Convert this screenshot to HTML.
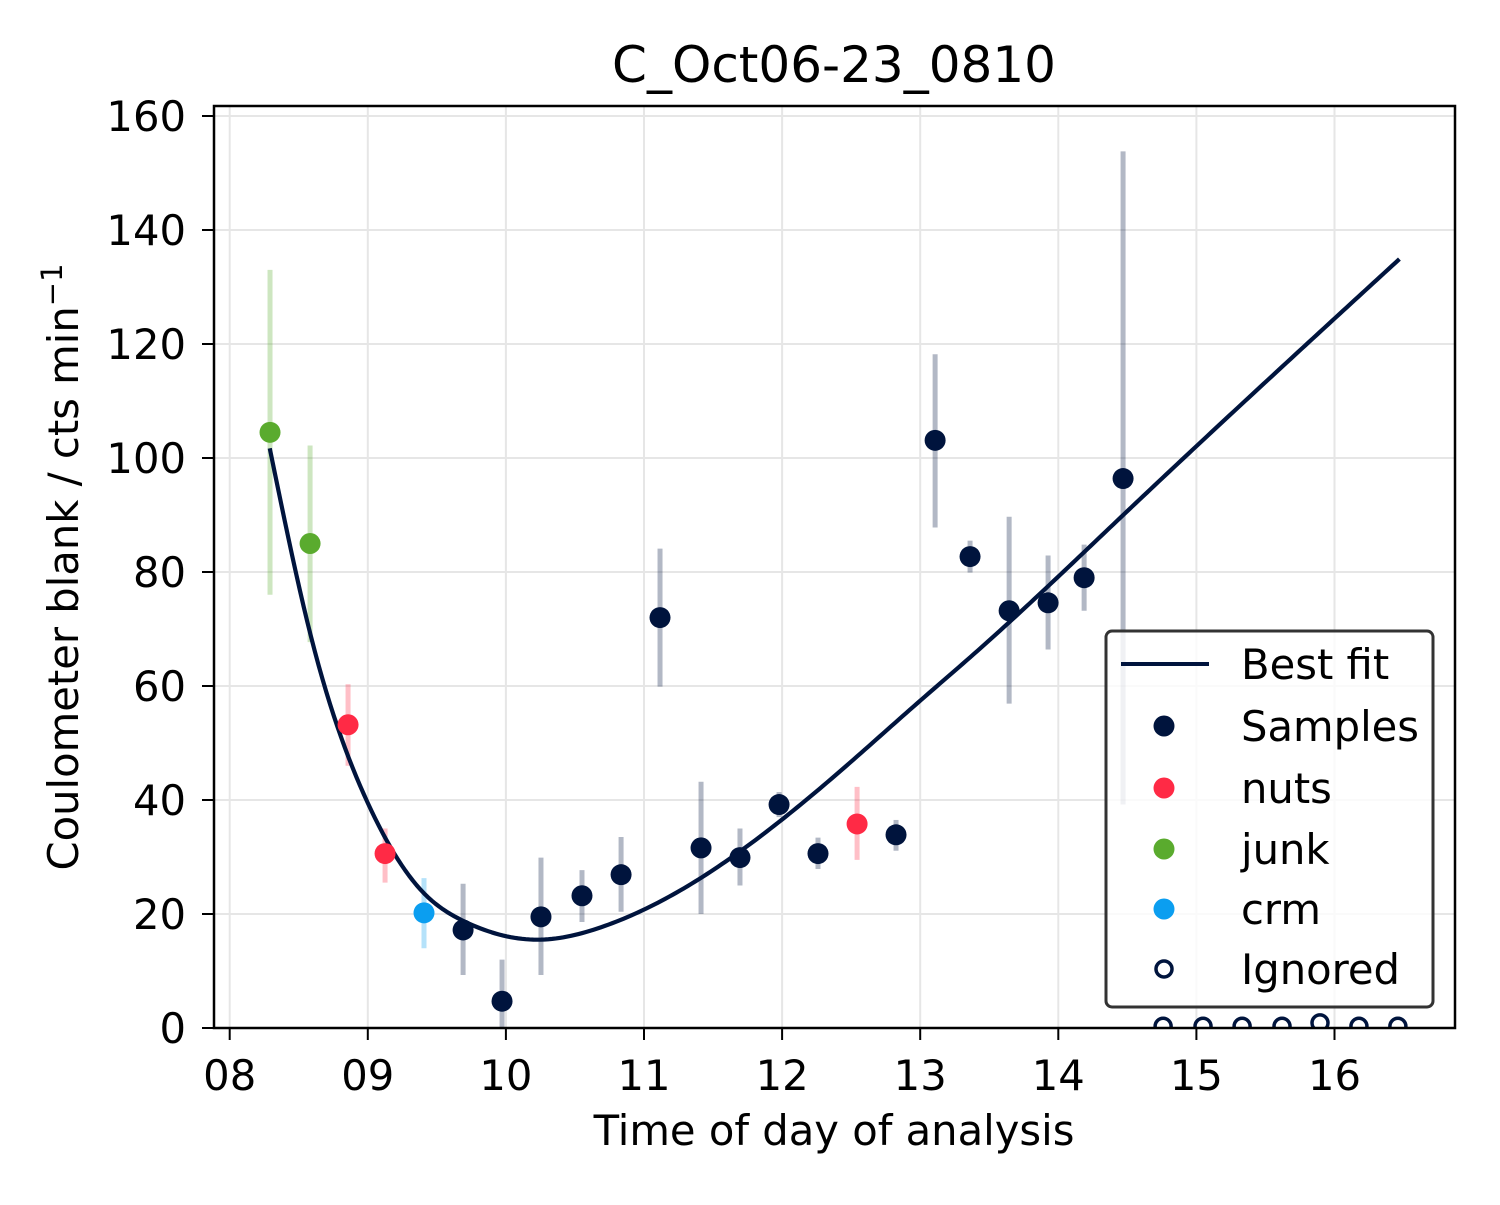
<!DOCTYPE html>
<html><head><meta charset="utf-8"><style>
html,body{margin:0;padding:0;background:#fff;}
svg text{font-family:"DejaVu Sans","Liberation Sans",sans-serif;fill:#000;}
</style></head><body>
<svg id="chart" width="1500" height="1200" viewBox="0 0 1500 1200" xmlns="http://www.w3.org/2000/svg">
<rect x="0" y="0" width="1500" height="1200" fill="#fff"/>
<defs><clipPath id="clip"><rect x="214" y="106" width="1241" height="922"/></clipPath></defs>
<g id="grid"></g>
<g id="marks" clip-path="url(#clip)"></g>
<g id="axes"></g>
<text x="834" y="82" font-size="50" text-anchor="middle">C_Oct06-23_0810</text>
<text x="834" y="1145" font-size="41.7" text-anchor="middle">Time of day of analysis</text>
<text transform="translate(78,567) rotate(-90)" font-size="41.7" text-anchor="middle">Coulometer blank / cts min<tspan dy="-16" font-size="29">−1</tspan></text>
<g id="legend"></g>
</svg>
<script>
// ---- data ----
const xTicks = [8,9,10,11,12,13,14,15,16];
const xTickLabels = ["08","09","10","11","12","13","14","15","16"];
const yTicks = [0,20,40,60,80,100,120,140,160];
const fitX = [8.29,8.58,8.99,9.40,9.69,10.25,10.68,11.41,11.98,12.37,12.98,13.43,14.47,16.47];
const fitY = [101.7,69.5,40,23.8,18.8,15.5,17.6,26.3,36.2,44.0,57.0,66.5,90,134.9];
const sampleX = [9.690,9.972,10.254,10.551,10.834,11.116,11.413,11.695,11.978,12.260,12.825,13.108,13.361,13.644,13.926,14.187,14.469];
const sampleY = [17.2,4.7,19.5,23.2,26.9,72,31.6,29.9,39.2,30.6,33.9,103.1,82.7,73.2,74.6,79,96.4];
const sampleLo = [9.3,0,9.3,18.6,20.4,59.9,20,25,37,27.9,31.1,87.8,79.9,56.9,66.4,73.2,39.2];
const sampleHi = [25.3,12,29.9,27.7,33.5,84.1,43.2,35,41.4,33.4,36.5,118.2,85.5,89.7,82.9,84.8,153.8];
const nutsX = [8.857,9.125,12.543];
const nutsY = [53.2,30.6,35.8];
const nutsLo = [46,25.5,29.5];
const nutsHi = [60.3,35,42.3];
const junkX = [8.292,8.582];
const junkY = [104.5,85];
const junkLo = [76,67.7];
const junkHi = [133,102.2];
const crmX = [9.407];
const crmY = [20.2];
const crmLo = [14];
const crmHi = [26.3];
const ignoredX = [14.759,15.048,15.331,15.620,15.895,16.177,16.459];
const ignoredY = [0.3,0.3,0.3,0.3,0.9,0.3,0.3];

// ---- scales ----
const X0 = 229.7, XS = 138.1;
const Y0 = 1028, YS = 5.7;
const sx = v => X0 + (v - 8) * XS;
const sy = v => Y0 - v * YS;
const NS = "http://www.w3.org/2000/svg";
function mk(tag, attrs, parent){
  const e = document.createElementNS(NS, tag);
  for (const k in attrs) e.setAttribute(k, attrs[k]);
  parent.appendChild(e); return e;
}
const grid = document.getElementById('grid');
const marks = document.getElementById('marks');
const axes = document.getElementById('axes');
const legend = document.getElementById('legend');

xTicks.forEach((t,i)=>{
  const g = mk('line',{x1:sx(t),x2:sx(t),y1:106,y2:1028,stroke:'#e6e6e6','stroke-width':2},grid);
  
  
  const tk = mk('line',{x1:sx(t),x2:sx(t),y1:1028,y2:1040,stroke:'#000','stroke-width':2},axes);
  
  
  const tx = mk('text',{x:sx(t),y:1090,'font-size':41.7,'text-anchor':'middle'},axes);
  tx.textContent = xTickLabels[i];
  
  
});
yTicks.forEach(t=>{
  const g = mk('line',{x1:214,x2:1455,y1:sy(t),y2:sy(t),stroke:'#e6e6e6','stroke-width':2},grid);
  
  
  const tk = mk('line',{x1:202,x2:214,y1:sy(t),y2:sy(t),stroke:'#000','stroke-width':2},axes);
  
  
  const tx = mk('text',{x:186,y:sy(t)+15,'font-size':41.7,'text-anchor':'end'},axes);
  tx.textContent = String(t);
  
  
});
const frame = mk('rect',{x:214,y:106,width:1241,height:922,fill:'none',stroke:'#000','stroke-width':2.5},axes);



function errs(xs,lo,hi,color,name){
  xs.forEach((x,i)=>{
    const l = mk('line',{x1:sx(x),x2:sx(x),y1:sy(lo[i]),y2:sy(hi[i]),stroke:color,'stroke-width':5,'stroke-opacity':0.3},marks);
    
    
  });
}
errs(junkX,junkLo,junkHi,'#5aab2e','junk-error-bar');
errs(nutsX,nutsLo,nutsHi,'#ff2a45','nuts-error-bar');
errs(crmX,crmLo,crmHi,'#0b9ef0','crm-error-bar');
errs(sampleX,sampleLo,sampleHi,'#001540','sample-error-bar');

function spline(xs, ys){
  const n = xs.length, h=[], a=[], l=[1], mu=[0], z=[0], c=new Array(n).fill(0), b=[], d=[];
  for (let i=0;i<n-1;i++) h.push(xs[i+1]-xs[i]);
  for (let i=1;i<n-1;i++) a[i] = 3/h[i]*(ys[i+1]-ys[i]) - 3/h[i-1]*(ys[i]-ys[i-1]);
  for (let i=1;i<n-1;i++){
    l[i] = 2*(xs[i+1]-xs[i-1]) - h[i-1]*mu[i-1];
    mu[i] = h[i]/l[i];
    z[i] = (a[i]-h[i-1]*z[i-1])/l[i];
  }
  for (let j=n-2;j>=0;j--){
    c[j] = (j>0 ? z[j]-mu[j]*c[j+1] : 0);
    b[j] = (ys[j+1]-ys[j])/h[j] - h[j]*(c[j+1]+2*c[j])/3;
    d[j] = (c[j+1]-c[j])/(3*h[j]);
  }
  return x => {
    let j = 0; while (j < n-2 && x > xs[j+1]) j++;
    const t = x - xs[j];
    return ys[j] + b[j]*t + c[j]*t*t + d[j]*t*t*t;
  };
}
const f = spline(fitX, fitY);
const N = 300, xa = fitX[0], xb = fitX[fitX.length-1];
let d = '';
for (let k=0;k<=N;k++){
  const x = xa + (xb-xa)*k/N;
  d += (k?' L':'M') + sx(x).toFixed(2) + ',' + sy(f(x)).toFixed(2);
}
const fit = mk('path',{d:d,fill:'none',stroke:'#00143d','stroke-width':4.2,'stroke-linejoin':'round'},marks);



function pts2(xs,ys,color,name){
  xs.forEach((x,i)=>{
    const c = mk('circle',{cx:sx(x),cy:sy(ys[i]),r:10.5,fill:color},marks);
    
    
  });
}
pts2(junkX,junkY,'#5aab2e','junk-point');
pts2(nutsX,nutsY,'#ff2a45','nuts-point');
pts2(crmX,crmY,'#0b9ef0','crm-point');
pts2(sampleX,sampleY,'#00143d','sample-point');
ignoredX.forEach((x,i)=>{
  const c = mk('circle',{cx:sx(x),cy:sy(ignoredY[i]),r:8,fill:'#fff',stroke:'#00143d','stroke-width':3.5},marks);
  
  
});

const lb = mk('rect',{x:1106,y:631,width:327,height:376,rx:6,fill:'#fff','fill-opacity':0.8,stroke:'#333','stroke-width':3},legend);


const ll = mk('line',{x1:1121,x2:1209,y1:664,y2:664,stroke:'#00143d','stroke-width':4},legend);


const entries = [["Best fit",664,null],["Samples",726,'#00143d'],["nuts",788,'#ff2a45'],["junk",849,'#5aab2e'],["crm",909,'#0b9ef0'],["Ignored",969,'hollow']];
entries.forEach(e=>{
  if (e[2]==='hollow'){
    const c = mk('circle',{cx:1164,cy:e[1],r:8,fill:'#fff',stroke:'#00143d','stroke-width':3.5},legend);
    
    
  } else if (e[2]){
    const c = mk('circle',{cx:1164,cy:e[1],r:10.5,fill:e[2]},legend);
    
    
  }
  const t = mk('text',{x:1241,y:e[1]+15,'font-size':41.7},legend);
  t.textContent = e[0];
  
  
});
</script>
</body></html>
